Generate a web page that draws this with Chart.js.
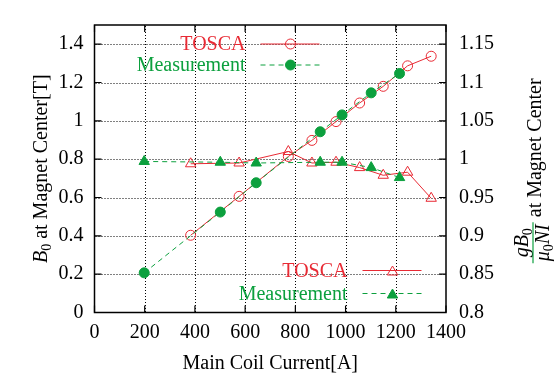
<!DOCTYPE html>
<html>
<head>
<meta charset="utf-8">
<script src="https://cdn.jsdelivr.net/npm/chart.js@4"></script>
<style>
  html, body { margin: 0; padding: 0; background: #fff; }
  canvas { display: block; }
</style>
</head>
<body>
<canvas id="chart" width="558" height="377"></canvas>
<script>
// values
const toscaCurrent = [383, 576, 772, 866, 962, 1056, 1150, 1247, 1341];
const toscaField   = [0.403, 0.606, 0.814, 0.898, 0.996, 1.093, 1.180, 1.287, 1.337];
const toscaRatio   = [0.994, 0.995, 1.010, 0.995, 0.996, 0.989, 0.979, 0.983, 0.949];

const measCurrent = [198, 501, 644, 899, 986, 1102, 1215];
const measField   = [0.207, 0.524, 0.677, 0.943, 1.031, 1.146, 1.247];
const measRatio   = [0.997, 0.996, 0.995, 0.996, 0.996, 0.989, 0.976];

const xTicksStep = 200;
const fieldTickStep = 0.2;
const ratioTickStep = 0.05;

const RED = 'rgb(232,42,52)';
const GREEN = 'rgb(12,160,62)';
const SERIF = '"Liberation Serif", "DejaVu Serif", serif';
const FONT_SIZE = 20;

function pts(xs, ys) {
    return xs.map((x, i) => ({ x: x, y: ys[i] }));
}

// plain number labels, like gnuplot: 1, 1.05, 1400
const plainLabel = v => String(+Number(v).toFixed(3));

// draws a run of text pieces (italic / subscript) starting at x along the baseline
function drawRich(ctx, parts, x, y) {
    let cx = x;
    parts.forEach(p => {
        ctx.font = p.font;
        ctx.fillText(p.t, cx, y + (p.dy || 0));
        cx += ctx.measureText(p.t).width;
    });
    return cx;
}

function richWidth(ctx, parts) {
    let w = 0;
    parts.forEach(p => { ctx.font = p.font; w += ctx.measureText(p.t).width; });
    return w;
}

const reg = `${FONT_SIZE}px ${SERIF}`;
const ital = `italic ${FONT_SIZE}px ${SERIF}`;
const sub = `14px ${SERIF}`;

const decorPlugin = {
    id: 'decor',
    beforeDatasetsDraw(chart) {
        // dotted grid, dot by dot
        const ctx = chart.ctx;
        const ca = chart.chartArea;
        const xs = chart.scales.x, ys = chart.scales.y;
        ctx.save();
        ctx.fillStyle = '#000';
        xs.ticks.forEach(t => {
            const px = Math.round(xs.getPixelForValue(t.value));
            if (px <= ca.left + 1 || px >= ca.right - 1) return;
            for (let y = ca.top + 1; y < ca.bottom; y += 3) ctx.fillRect(px, y, 1, 1);
        });
        ys.ticks.forEach(t => {
            const py = Math.round(ys.getPixelForValue(t.value));
            if (py >= ca.bottom - 1) return;
            for (let x = ca.left + 1; x < ca.right; x += 3) ctx.fillRect(x, py, 1, 1);
        });
        ctx.restore();
    },
    afterDatasetsDraw(chart) {
        const ctx = chart.ctx;
        const ca = chart.chartArea;
        const xs = chart.scales.x, ys = chart.scales.y;
        ctx.save();

        // frame
        ctx.strokeStyle = '#000';
        ctx.lineWidth = 1.5;
        ctx.strokeRect(ca.left, ca.top, ca.right - ca.left, ca.bottom - ca.top);

        // inward tick marks (mirrored)
        ctx.lineWidth = 1.2;
        ctx.beginPath();
        xs.ticks.forEach(t => {
            const px = xs.getPixelForValue(t.value);
            ctx.moveTo(px, ca.bottom); ctx.lineTo(px, ca.bottom - 7);
            ctx.moveTo(px, ca.top); ctx.lineTo(px, ca.top + 7);
        });
        ys.ticks.forEach(t => {
            const py = ys.getPixelForValue(t.value);
            ctx.moveTo(ca.left, py); ctx.lineTo(ca.left + 7, py);
        });
        chart.scales.y1.ticks.forEach(t => {
            const py = chart.scales.y1.getPixelForValue(t.value);
            ctx.moveTo(ca.right, py); ctx.lineTo(ca.right - 7, py);
        });
        ctx.stroke();

        // legends
        const legendRows = [
            { label: 'TOSCA', color: RED, dash: [], style: 'circle', fill: false, x: ca.left + 151, y: ca.top + 19 },
            { label: 'Measurement', color: GREEN, dash: [5, 4], style: 'circle', fill: true, x: ca.left + 151, y: ca.top + 40 },
            { label: 'TOSCA', color: RED, dash: [], style: 'triangle', fill: false, x: ca.left + 253, y: ca.bottom - 42 },
            { label: 'Measurement', color: GREEN, dash: [5, 4], style: 'triangle', fill: true, x: ca.left + 253, y: ca.bottom - 19 }
        ];
        legendRows.forEach(r => {
            ctx.font = reg;
            ctx.fillStyle = r.color;
            ctx.textAlign = 'right';
            ctx.textBaseline = 'middle';
            ctx.fillText(r.label, r.x, r.y + 1);
            ctx.strokeStyle = r.color;
            ctx.lineWidth = 1;
            ctx.setLineDash(r.dash);
            ctx.beginPath();
            ctx.moveTo(r.x + 15, r.y);
            ctx.lineTo(r.x + 74, r.y);
            ctx.stroke();
            ctx.setLineDash([]);
            ctx.fillStyle = r.fill ? r.color : 'rgba(0,0,0,0)';
            Chart.helpers.drawPoint(ctx, {
                pointStyle: r.style, radius: r.style === 'triangle' ? 6 : 5,
                rotation: 0, borderWidth: 1
            }, r.x + 45, r.y + (r.style === 'triangle' ? 1.5 : 0));
        });

        // axis titles
        ctx.fillStyle = '#000';
        ctx.textAlign = 'center';
        ctx.textBaseline = 'alphabetic';
        ctx.font = reg;
        ctx.fillText('Main Coil Current[A]', (ca.left + ca.right) / 2, 369);

        ctx.textAlign = 'left';
        // left title
        const leftParts = [
            { t: 'B', font: ital },
            { t: '0', font: sub, dy: 4 },
            { t: ' at Magnet Center[T]', font: reg }
        ];
        ctx.save();
        ctx.translate(47, (ca.top + ca.bottom) / 2);
        ctx.rotate(-Math.PI / 2);
        drawRich(ctx, leftParts, -richWidth(ctx, leftParts) / 2, 0);
        ctx.restore();

        // right title: fraction then text
        const numParts = [
            { t: 'gB', font: ital },
            { t: '0', font: sub, dy: 4 }
        ];
        const denParts = [
            { t: 'μ', font: ital },
            { t: '0', font: sub, dy: 4 },
            { t: 'NI', font: ital }
        ];
        const restParts = [{ t: ' at Magnet Center', font: reg }];
        ctx.save();
        ctx.translate(ca.right + 87, (ca.top + ca.bottom) / 2 + 74);
        ctx.rotate(-Math.PI / 2);
        const nw = richWidth(ctx, numParts), dw = richWidth(ctx, denParts);
        const fw = Math.max(nw, dw) + 4;
        drawRich(ctx, numParts, -nw / 2, -5);
        drawRich(ctx, denParts, -dw / 2, 16);
        ctx.lineWidth = 1.2;
        ctx.beginPath();
        ctx.moveTo(-fw / 2, 0);
        ctx.lineTo(fw / 2, 0);
        ctx.stroke();
        drawRich(ctx, restParts, fw / 2, 8);
        ctx.restore();

        ctx.restore();
    }
};

new Chart(document.getElementById('chart'), {
    type: 'line',
    data: {
        datasets: [
            {
                label: 'Measurement',
                data: pts(measCurrent, measField),
                yAxisID: 'y',
                borderColor: GREEN, backgroundColor: GREEN,
                borderWidth: 1, borderDash: [5, 4],
                pointStyle: 'circle', pointRadius: 5, pointBorderWidth: 1
            },
            {
                label: 'Measurement',
                data: pts(measCurrent, measRatio),
                yAxisID: 'y1',
                borderColor: GREEN, backgroundColor: GREEN,
                borderWidth: 1, borderDash: [5, 4],
                pointStyle: 'triangle', pointRadius: 6, pointBorderWidth: 1
            },
            {
                label: 'TOSCA',
                data: pts(toscaCurrent, toscaField),
                yAxisID: 'y',
                borderColor: RED, backgroundColor: 'rgba(0,0,0,0)',
                borderWidth: 1,
                pointStyle: 'circle', pointRadius: 5, pointBorderWidth: 1
            },
            {
                label: 'TOSCA',
                data: pts(toscaCurrent, toscaRatio),
                yAxisID: 'y1',
                borderColor: RED, backgroundColor: 'rgba(0,0,0,0)',
                borderWidth: 1,
                pointStyle: 'triangle', pointRadius: 6, pointBorderWidth: 1
            }
        ]
    },
    options: {
        responsive: false,
        animation: false,
        devicePixelRatio: 1,
        layout: { padding: { top: 12, left: 0, right: 0, bottom: 0 } },
        plugins: { legend: { display: false }, tooltip: { enabled: false } },
        scales: {
            x: {
                type: 'linear', min: 0, max: 1400,
                afterFit: s => { s.height = 64.5; },
                ticks: { stepSize: xTicksStep, padding: 8, color: '#000', font: { family: SERIF, size: FONT_SIZE }, maxRotation: 0, callback: plainLabel },
                grid: { display: false, drawTicks: false },
                border: { display: false }
            },
            y: {
                type: 'linear', position: 'left', min: 0, max: 1.5,
                afterFit: s => { s.width = 94.5; },
                ticks: { stepSize: fieldTickStep, includeBounds: false, padding: 11, color: '#000', font: { family: SERIF, size: FONT_SIZE }, callback: plainLabel },
                grid: { display: false, drawTicks: false },
                border: { display: false }
            },
            y1: {
                type: 'linear', position: 'right', min: 0.8, max: 1.175,
                afterFit: s => { s.width = 112; },
                ticks: { stepSize: ratioTickStep, includeBounds: false, padding: 13, color: '#000', font: { family: SERIF, size: FONT_SIZE }, callback: plainLabel },
                grid: { display: false, drawTicks: false },
                border: { display: false }
            }
        }
    },
    plugins: [decorPlugin]
});
</script>
</body>
</html>
